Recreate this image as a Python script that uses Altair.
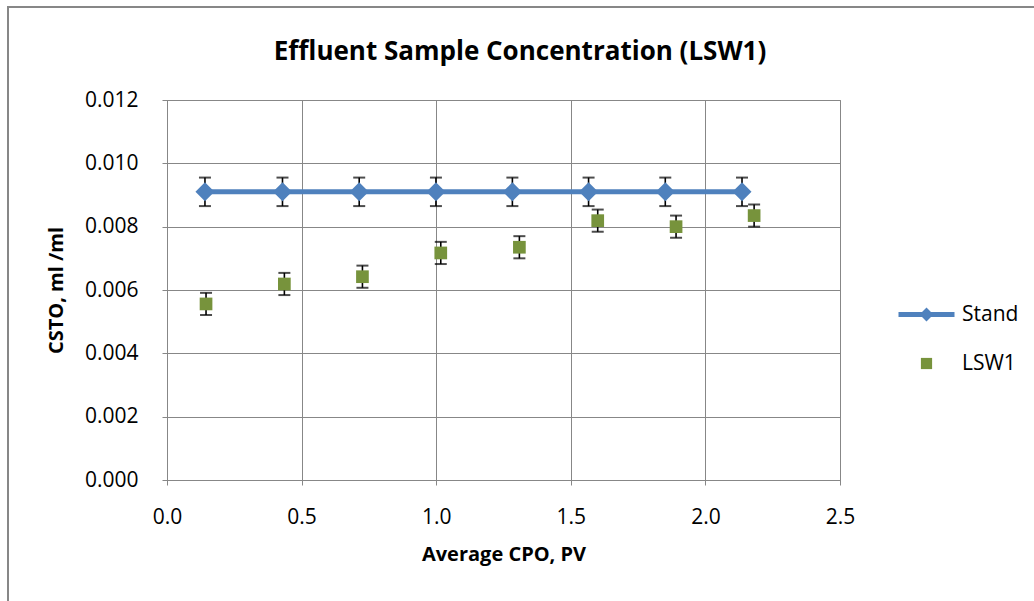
import altair as alt
import pandas as pd

# ---- data ----
stand_x = [0.141, 0.429, 0.714, 0.999, 1.283, 1.566, 1.851, 2.136]
stand_y = [0.0091, 0.0091, 0.0091, 0.0091, 0.0091, 0.0091, 0.0091, 0.0091]
stand_err = [0.00045, 0.00045, 0.00045, 0.00045, 0.00045, 0.00045, 0.00045, 0.00045]

lsw_x = [0.145, 0.436, 0.726, 1.017, 1.309, 1.600, 1.891, 2.181]
lsw_y = [0.00556, 0.00619, 0.00642, 0.00717, 0.00735, 0.00819, 0.00800, 0.00835]
lsw_err = [0.00035, 0.00035, 0.00035, 0.00035, 0.00035, 0.00035, 0.00035, 0.00035]

series_names = ["Stand", "LSW1"]
x_ticks = [0.0, 0.5, 1.0, 1.5, 2.0, 2.5]
y_ticks = [0.000, 0.002, 0.004, 0.006, 0.008, 0.010, 0.012]
chart_title = "Effluent Sample Concentration (LSW1)"

BLUE = "#4F81BD"
GREEN = "#77933C"
GRID = "#878787"
FONT = "Open Sans"

df = pd.concat([
    pd.DataFrame({"series": "Stand", "x": stand_x, "y": stand_y, "err": stand_err}),
    pd.DataFrame({"series": "LSW1", "x": lsw_x, "y": lsw_y, "err": lsw_err}),
], ignore_index=True)

base = alt.Chart(df).transform_calculate(
    lo="datum.y - datum.err", hi="datum.y + datum.err"
)
one_row = alt.Chart(df).transform_filter("datum.series == 'Stand' && datum.x < 0.2")

x_enc = alt.X("x:Q", scale=alt.Scale(domain=[0, 2.5], nice=False),
              axis=alt.Axis(values=x_ticks, format=".1f", title="Average CPO, PV"))
y_enc = alt.Y("y:Q", scale=alt.Scale(domain=[0, 0.012], nice=False),
              axis=alt.Axis(values=y_ticks, format=".3f", title="CSTO, ml /ml"))

# outer chart frame (decoration)
border = one_row.mark_rect(fill=None, stroke=GRID, strokeWidth=2, clip=False).encode(
    x=alt.value(-159), x2=alt.value(1200), y=alt.value(-93), y2=alt.value(800))

title_text = one_row.mark_text(font=FONT, fontSize=26, fontWeight="bold", color="black",
                               align="center", baseline="alphabetic").encode(
    x=alt.value(353), y=alt.value(-40), text=alt.value(chart_title))

err_rule = base.mark_rule(color="black", strokeWidth=1.6).encode(
    x=x_enc, y=alt.Y("lo:Q"), y2="hi:Q")
cap_lo = base.mark_tick(color="black", orient="horizontal", size=12, thickness=2).encode(
    x="x:Q", y="lo:Q")
cap_hi = base.mark_tick(color="black", orient="horizontal", size=12, thickness=2).encode(
    x="x:Q", y="hi:Q")

line = base.transform_filter("datum.series == 'Stand'").mark_line(
    color=BLUE, strokeWidth=5).encode(x="x:Q", y=y_enc)
pts_stand = base.transform_filter("datum.series == 'Stand'").mark_point(
    shape="diamond", filled=True, size=361, color=BLUE, opacity=1).encode(x="x:Q", y="y:Q")
pts_lsw = base.transform_filter("datum.series == 'LSW1'").mark_point(
    shape="square", filled=True, size=161, color=GREEN, opacity=1).encode(x="x:Q", y="y:Q")

stand_path = "M-4,-0.36H-0.64L0,-1L0.64,-0.36H4V0.36H0.64L0,1L-0.64,0.36H-4Z"
square_path = "M-0.8,-0.8H0.8V0.8H-0.8Z"

leg = dict(title=None, orient="none", legendX=749, legendY=204,
           symbolSize=196, symbolStrokeWidth=0, labelOffset=25, rowPadding=27,
           labelFontSize=21, labelFont=FONT, labelColor="black")

legend_layer = base.transform_filter("datum.x < 0").mark_point(filled=True, opacity=1).encode(
    x="x:Q", y="y:Q",
    color=alt.Color("series:N", scale=alt.Scale(domain=series_names, range=[BLUE, GREEN]),
                    legend=alt.Legend(**leg)),
    shape=alt.Shape("series:N", scale=alt.Scale(domain=series_names,
                                                range=[stand_path, square_path]),
                    legend=alt.Legend(**leg)),
)

chart = alt.layer(border, err_rule, cap_lo, cap_hi, line, pts_stand, pts_lsw,
                  legend_layer, title_text).properties(
    width=673, height=380,
    autosize=alt.AutoSizeParams(type="none"),
    padding={"left": 167, "top": 100, "right": 194, "bottom": 121},
    background="white",
).configure_axis(
    grid=True, gridColor=GRID, gridWidth=1, domainColor=GRID, domainWidth=1,
    tickColor=GRID, tickSize=5, tickWidth=1,
    labelFont=FONT, labelFontSize=21, labelColor="black",
    titleFont=FONT, titleFontSize=20, titleFontWeight="bold", titleColor="black",
).configure_axisX(labelPadding=21, titlePadding=17, labelFlush=False) \
 .configure_axisY(labelPadding=24, titlePadding=18) \
 .configure_view(stroke=GRID, strokeWidth=1)

chart.save("out.html", embed_options={"renderer": "svg", "actions": False})
